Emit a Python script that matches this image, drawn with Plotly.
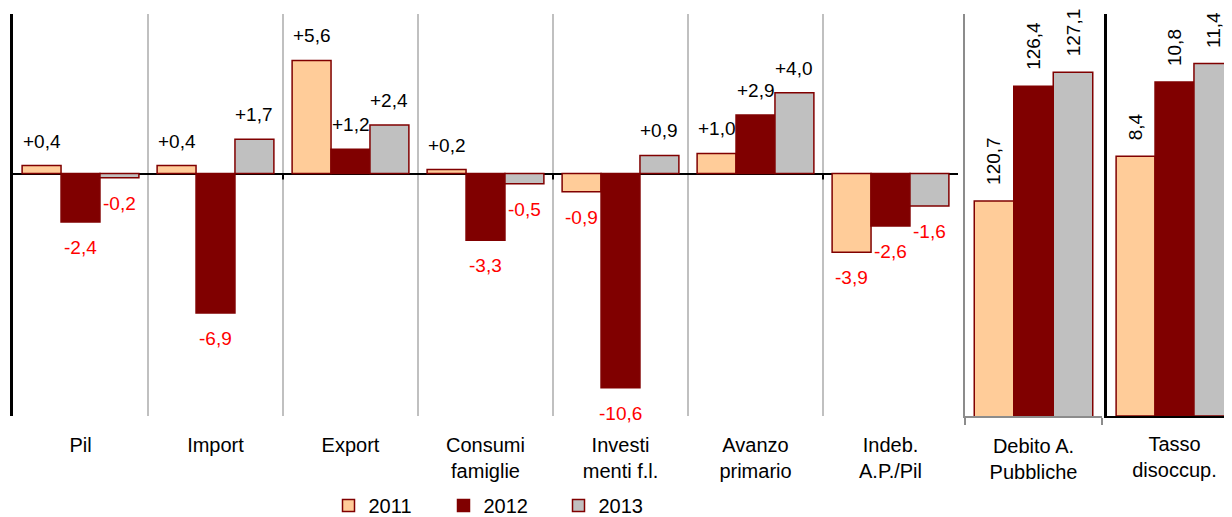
import plotly.graph_objects as go

# data (variazioni % / livelli)
categorie = ["Pil", "Import", "Export", "Consumi<br>famiglie", "Investi<br>menti f.l.",
             "Avanzo<br>primario", "Indeb.<br>A.P./Pil"]
v2011 = [0.4, 0.4, 5.6, 0.2, -0.9, 1.0, -3.9]
v2012 = [-2.4, -6.9, 1.2, -3.3, -10.6, 2.9, -2.6]
v2013 = [-0.2, 1.7, 2.4, -0.5, 0.9, 4.0, -1.6]

debito_cat = ["Debito A.<br>Pubbliche"]
debito = [120.7, 126.4, 127.1]
tasso_cat = ["Tasso<br>disoccup."]
tasso = [8.4, 10.8, 11.4]

anni = ["2011", "2012", "2013"]
fills = ["#FFCC99", "#800000", "#C0C0C0"]
bordo = "#800000"
FONT = "Liberation Sans, Arial, sans-serif"
FS = 20
# il body della pagina ha 8px di margine: le posizioni sono spostate di 8px
W, H = 1232, 517
BARGAP = 0.135

def fmt(v, segno=True):
    s = f"{v:+.1f}" if segno else f"{v:.1f}"
    return s.replace(".", ",")

fig = go.Figure()

serie_main = [v2011, v2012, v2013]
for j, vals in enumerate(serie_main):
    fig.add_trace(go.Bar(x=categorie, y=vals, name=anni[j], legendgroup=anni[j],
                         marker=dict(color=fills[j], line=dict(color=bordo, width=1.5)),
                         xaxis="x", yaxis="y"))
    fig.add_trace(go.Bar(x=debito_cat, y=[debito[j]], name=anni[j], legendgroup=anni[j],
                         showlegend=False,
                         marker=dict(color=fills[j], line=dict(color=bordo, width=1.5)),
                         xaxis="x2", yaxis="y2"))
    fig.add_trace(go.Bar(x=tasso_cat, y=[tasso[j]], name=anni[j], legendgroup=anni[j],
                         showlegend=False,
                         marker=dict(color=fills[j], line=dict(color=bordo, width=1.5)),
                         xaxis="x3", yaxis="y3"))

# etichette dati
bw = (1 - BARGAP) / 3
offs = [-bw, 0, bw]
ann = []
for j, vals in enumerate(serie_main):
    for i, v in enumerate(vals):
        pos = v >= 0
        ann.append(dict(x=i + offs[j], y=v, xref="x", yref="y", text=fmt(v),
                        showarrow=False, yanchor="bottom" if pos else "top",
                        yshift=12 if pos else -13,
                        font=dict(family=FONT, size=FS - 1, color="black" if pos else "#FF0000")))
for j in range(3):
    ann.append(dict(x=offs[j], y=debito[j], xref="x2", yref="y2", text=fmt(debito[j], False),
                    showarrow=False, textangle=-90, yanchor="bottom", yshift=14,
                    font=dict(family=FONT, size=FS - 1, color="black")))
    ann.append(dict(x=offs[j], y=tasso[j], xref="x3", yref="y3", text=fmt(tasso[j], False),
                    showarrow=False, textangle=-90, yanchor="bottom", yshift=14,
                    font=dict(family=FONT, size=FS - 1, color="black")))

# piccole tacche sulla linea dello zero
shapes = []
for b in [1.5, 3.5, 5.5]:
    shapes.append(dict(type="line", xref="x", yref="y", x0=b, x1=b, ysizemode="pixel",
                       yanchor=0, y0=0, y1=-6, line=dict(color="black", width=2)))

tf = dict(family=FONT, size=FS, color="black")
x_main = (5 / W, 950 / W)
x_deb = (957 / W, 1094 / W)
x_tas = (1099 / W, 1.0)
vis = (W - 1099) / 135.0
top, bottom = 6, 412

fig.update_layout(
    width=W, height=H,
    margin=dict(l=0, r=0, t=top, b=H - bottom),
    paper_bgcolor="white", plot_bgcolor="white",
    barmode="group", bargap=BARGAP, bargroupgap=0,
    font=dict(family=FONT, size=FS, color="black"),
    xaxis=dict(domain=x_main, tickson="boundaries", showgrid=True, gridcolor="#C0C0C0",
               gridwidth=2, ticks="", showline=False, tickfont=tf, ticklabelstandoff=15,
               range=[-0.5, 6.5], zeroline=False, automargin=False),
    yaxis=dict(range=[-12, 7.9], showgrid=False, showticklabels=False, ticks="",
               zeroline=True, zerolinecolor="black", zerolinewidth=2, automargin=False,
               showline=True, linecolor="black", linewidth=3),
    xaxis2=dict(domain=x_deb, anchor="y2", tickson="boundaries", showgrid=False,
                ticks="outside", ticklen=7, tickcolor="#8C8C8C", tickwidth=2,
                showline=True, linecolor="#8C8C8C", linewidth=2, tickfont=tf,
                ticklabelstandoff=11, range=[-0.5, 0.5], automargin=False),
    yaxis2=dict(domain=[0, 1], anchor="x2", range=[110, 130], showgrid=False,
                showticklabels=False, ticks="", zeroline=False, automargin=False,
                showline=True, linecolor="#8C8C8C", linewidth=2),
    xaxis3=dict(domain=x_tas, anchor="y3", showgrid=False, ticks="",
                showline=True, linecolor="black", linewidth=2, tickfont=tf,
                ticklabelstandoff=9, range=[-0.5, -0.5 + vis], automargin=False),
    yaxis3=dict(domain=[0, 1], anchor="x3", range=[0, 13], showgrid=False,
                showticklabels=False, ticks="", zeroline=False, automargin=False,
                showline=True, linecolor="black", linewidth=3),
    legend=dict(orientation="h", x=493 / W, xanchor="center",
                y=-(503 - bottom) / (bottom - top), yanchor="middle",
                font=dict(family=FONT, size=FS), itemwidth=30, entrywidth=70,
                bgcolor="rgba(0,0,0,0)"),
    annotations=ann,
    shapes=shapes,
)

fig.write_html("out.html")
